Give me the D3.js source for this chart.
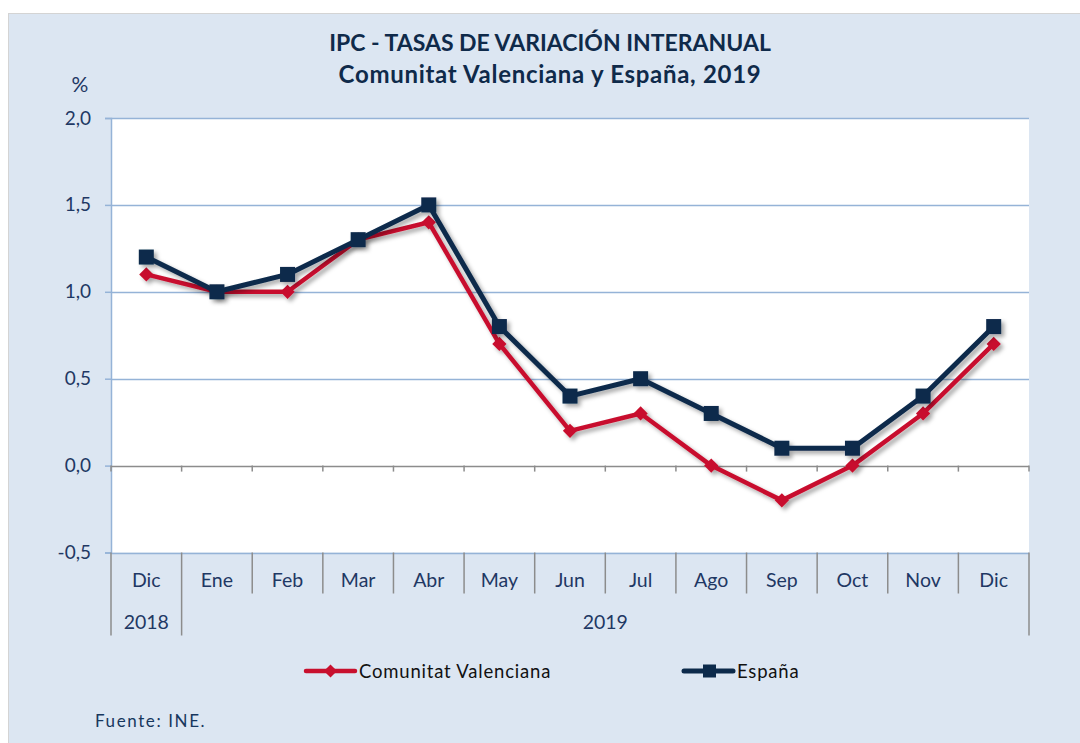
<!DOCTYPE html>
<html>
<head>
<meta charset="utf-8">
<script src="https://cdn.jsdelivr.net/npm/d3@7"></script>
<style>
  body { margin: 0; background: #fff; }
  text { font-family: Lato, "Open Sans", sans-serif; }
</style>
</head>
<body>
<div id="chart"></div>
<script>
// data
const months = ['Dic', 'Ene', 'Feb', 'Mar', 'Abr', 'May', 'Jun', 'Jul', 'Ago', 'Sep', 'Oct', 'Nov', 'Dic'];
const years = ['2018', '2019'];
const yearSpans = [1, 12];
const valenciana = [1.1, 1.0, 1.0, 1.3, 1.4, 0.7, 0.2, 0.3, 0.0, -0.2, 0.0, 0.3, 0.7];
const espana = [1.2, 1.0, 1.1, 1.3, 1.5, 0.8, 0.4, 0.5, 0.3, 0.1, 0.1, 0.4, 0.8];
const yTicks = [-0.5, 0, 0.5, 1.0, 1.5, 2.0];

const width = 1080, height = 743;
const margin = { top: 118, right: 51, bottom: 190.5, left: 111 };
const navy = '#0c2a4b', red = '#c8102e', textCol = '#1f3864';

const svg = d3.select('#chart').append('svg')
  .attr('width', width).attr('height', height);

const defs = svg.append('defs');
const f = defs.append('filter').attr('id', 'shadow')
  .attr('x', '-10%').attr('y', '-10%').attr('width', '130%').attr('height', '130%');
f.append('feDropShadow').attr('dx', 3).attr('dy', 3).attr('stdDeviation', 2)
  .attr('flood-color', '#000').attr('flood-opacity', 0.35);

// background panel
svg.append('rect')
  .attr('x', 8.5).attr('y', 13.5).attr('width', width).attr('height', height)
  .attr('fill', '#dce6f2').attr('stroke', '#d4d4d4');

const x = d3.scaleBand()
  .domain(d3.range(months.length))
  .range([margin.left, width - margin.right]);

const y = d3.scaleLinear()
  .domain([-0.5, 2])
  .range([height - margin.bottom, margin.top]);

// plot area
svg.append('rect')
  .attr('x', margin.left).attr('y', y(2))
  .attr('width', x.range()[1] - margin.left).attr('height', y(-0.5) - y(2))
  .attr('fill', '#fff');

// gridlines
svg.append('g')
  .selectAll('line')
  .data(yTicks.filter(d => d !== 0))
  .join('line')
    .attr('x1', margin.left).attr('x2', x.range()[1])
    .attr('y1', d => Math.round(y(d)) + 0.5).attr('y2', d => Math.round(y(d)) + 0.5)
    .attr('stroke', '#95b3d7').attr('stroke-width', 1.5);

// y axis
const yAxis = svg.append('g')
  .attr('transform', `translate(${margin.left},0)`)
  .call(d3.axisLeft(y).tickValues(yTicks).tickSize(6).tickPadding(14)
    .tickFormat(d => d3.format('.1f')(d).replace('.', ',').replace('−', '-')));
yAxis.select('.domain').attr('stroke', '#95b3d7').attr('stroke-width', 1.5);
yAxis.selectAll('.tick line').attr('stroke', '#95b3d7').attr('stroke-width', 1.5);
yAxis.selectAll('.tick text')
  .attr('fill', textCol).attr('font-size', 19).attr('font-family', 'Lato, sans-serif');

svg.append('text')
  .attr('x', 80).attr('y', 92).attr('text-anchor', 'middle')
  .attr('fill', textCol).attr('font-size', 21)
  .text('%');

// zero line with ticks
const boundaries = d3.range(months.length + 1).map(i => i < months.length ? x(i) : x.range()[1]);
svg.append('line')
  .attr('x1', margin.left).attr('x2', x.range()[1])
  .attr('y1', Math.round(y(0)) + 0.5).attr('y2', Math.round(y(0)) + 0.5)
  .attr('stroke', '#8c8c8c').attr('stroke-width', 1.5);
svg.append('g')
  .selectAll('line')
  .data(boundaries)
  .join('line')
    .attr('x1', d => d).attr('x2', d => d)
    .attr('y1', y(0)).attr('y2', y(0) + 6)
    .attr('stroke', '#8c8c8c').attr('stroke-width', 1.5);

// category separators
const yearEdges = [0];
yearSpans.forEach(s => yearEdges.push(yearEdges[yearEdges.length - 1] + s));
svg.append('g')
  .selectAll('line')
  .data(d3.range(months.length + 1))
  .join('line')
    .attr('x1', i => boundaries[i]).attr('x2', i => boundaries[i])
    .attr('y1', y(-0.5)).attr('y2', i => yearEdges.includes(i) ? y(-0.5) + 83 : y(-0.5) + 41)
    .attr('stroke', '#8c8c8c').attr('stroke-width', 1.5);

svg.append('g')
  .selectAll('text')
  .data(months)
  .join('text')
    .attr('x', (d, i) => x(i) + x.bandwidth() / 2)
    .attr('y', y(-0.5) + 34)
    .attr('text-anchor', 'middle')
    .attr('fill', textCol).attr('font-size', 19.5)
    .text(d => d);

svg.append('g')
  .selectAll('text')
  .data(years)
  .join('text')
    .attr('x', (d, i) => (boundaries[yearEdges[i]] + boundaries[yearEdges[i + 1]]) / 2)
    .attr('y', y(-0.5) + 76)
    .attr('text-anchor', 'middle')
    .attr('fill', textCol).attr('font-size', 19.5)
    .text(d => d);

// series
const line = d3.line()
  .x((d, i) => x(i) + x.bandwidth() / 2)
  .y(d => y(d));

const diamond = d3.symbol().type(d3.symbolDiamond2).size(130);

const gCV = svg.append('g').attr('filter', 'url(#shadow)');
gCV.append('path')
  .datum(valenciana)
  .attr('d', line)
  .attr('fill', 'none').attr('stroke', red).attr('stroke-width', 4.5)
  .attr('stroke-linejoin', 'round');
gCV.selectAll('path.m')
  .data(valenciana)
  .join('path')
    .attr('class', 'm')
    .attr('d', diamond)
    .attr('transform', (d, i) => `translate(${x(i) + x.bandwidth() / 2},${y(d)})`)
    .attr('fill', red);

const gES = svg.append('g').attr('filter', 'url(#shadow)');
gES.append('path')
  .datum(espana)
  .attr('d', line)
  .attr('fill', 'none').attr('stroke', navy).attr('stroke-width', 5)
  .attr('stroke-linejoin', 'round');
gES.selectAll('rect')
  .data(espana)
  .join('rect')
    .attr('x', (d, i) => x(i) + x.bandwidth() / 2 - 7.5)
    .attr('y', d => y(d) - 7.5)
    .attr('width', 15).attr('height', 15)
    .attr('fill', navy);

// title
svg.append('text')
  .attr('x', 550).attr('y', 51).attr('text-anchor', 'middle')
  .attr('fill', '#0f2a4a').attr('font-size', 23).attr('font-weight', 'bold')
  .text('IPC - TASAS DE VARIACIÓN INTERANUAL');
svg.append('text')
  .attr('x', 550).attr('y', 83).attr('text-anchor', 'middle')
  .attr('fill', '#0f2a4a').attr('font-size', 24).attr('font-weight', 'bold')
  .attr('letter-spacing', 0.7)
  .text('Comunitat Valenciana y España, 2019');

// legend
const legend = [
  { name: 'Comunitat Valenciana', color: red, x: 306, w: 4.5, mark: 'diamond' },
  { name: 'España', color: navy, x: 684, w: 5, mark: 'square' }
];
const lg = svg.append('g').selectAll('g').data(legend).join('g')
  .attr('transform', d => `translate(${d.x},671)`);
lg.append('line')
  .attr('x1', 0).attr('x2', 49)
  .attr('stroke', d => d.color).attr('stroke-width', d => d.w)
  .attr('stroke-linecap', 'round');
lg.filter(d => d.mark === 'diamond').append('path')
  .attr('d', d3.symbol().type(d3.symbolDiamond2).size(110))
  .attr('transform', 'translate(24.5,0)')
  .attr('fill', red);
lg.filter(d => d.mark === 'square').append('rect')
  .attr('x', 19).attr('y', -6.5).attr('width', 13).attr('height', 13)
  .attr('fill', navy);
lg.append('text')
  .attr('x', 53).attr('y', 6.5)
  .attr('fill', '#111').attr('font-size', 18.5).attr('letter-spacing', 0.8)
  .text(d => d.name);

svg.append('text')
  .attr('x', 95).attr('y', 727)
  .attr('fill', '#17375e').attr('font-size', 17).attr('letter-spacing', 1.6)
  .text('Fuente: INE.');
</script>
</body>
</html>
